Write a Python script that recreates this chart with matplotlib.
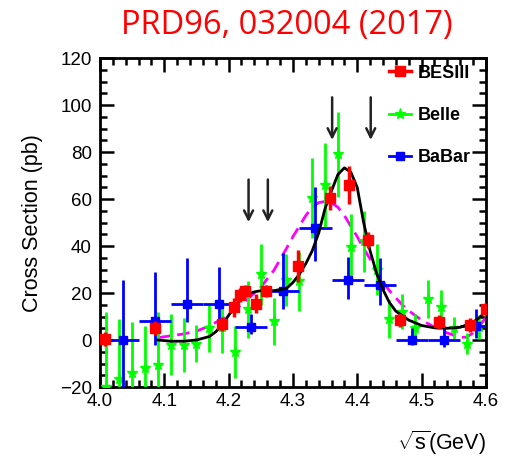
import numpy as np
import matplotlib.pyplot as plt
from matplotlib.lines import Line2D
from matplotlib.ticker import MultipleLocator

plt.rcParams['font.family'] = ['Liberation Sans', 'DejaVu Sans']
plt.rcParams['mathtext.fontset'] = 'custom'
plt.rcParams['mathtext.rm'] = 'Liberation Sans'
plt.rcParams['mathtext.it'] = 'Liberation Sans:italic'

# BESIII points
bes_E = [4.008, 4.085, 4.189, 4.208, 4.217, 4.226, 4.242, 4.258, 4.308,
         4.358, 4.387, 4.416, 4.467, 4.527, 4.575, 4.600]
bes_xs = [0.4, 5.0, 7.0, 14.0, 19.0, 21.0, 15.5, 21.0, 31.5,
          60.5, 66.0, 42.5, 8.5, 7.5, 6.5, 13.0]
bes_err = [3.0, 3.0, 3.0, 4.0, 3.0, 2.5, 4.0, 2.5, 7.0,
           5.0, 8.0, 3.5, 3.0, 3.0, 3.0, 3.0]

# Belle points
belle_E = [4.01, 4.03, 4.05, 4.07, 4.09, 4.11, 4.13, 4.15, 4.17, 4.19,
           4.21, 4.23, 4.25, 4.27, 4.29, 4.31, 4.33, 4.35, 4.37, 4.39,
           4.41, 4.43, 4.45, 4.47, 4.49, 4.51, 4.53, 4.55, 4.57, 4.59]
belle_xs = [-20.0, -16.5, -14.0, -12.0, -10.5, -2.0, -2.0, -1.5, 5.0, 5.5,
            -5.0, 13.0, 28.0, 8.0, 25.5, 25.0, 60.5, 66.0, 79.0, 39.5,
            42.0, 30.0, 9.0, 12.0, 5.0, 17.5, 14.0, 5.0, -1.5, 5.5]
belle_err = [32.0, 25.5, 21.5, 18.0, 22.5, 13.0, 11.5, 8.0, 10.0, 11.0,
             11.0, 12.0, 13.0, 10.0, 11.0, 12.5, 17.0, 18.0, 18.0, 14.0,
             13.0, 11.0, 8.0, 7.5, 6.0, 8.0, 7.5, 5.0, 4.5, 5.0]

# BaBar points (0.05 GeV bins)
babar_E = [4.035, 4.085, 4.135, 4.185, 4.235, 4.285, 4.335, 4.385,
           4.435, 4.485, 4.535, 4.585]
babar_xs = [0.0, 8.0, 15.5, 15.5, 5.5, 21.0, 47.5, 25.5, 23.5, 0.0, 0.0, 6.0]
babar_up = [25.5, 21.0, 19.5, 15.5, 5.5, 16.0, 17.5, 10.0, 11.5, 5.0, 6.0, 7.0]
babar_dn = [25.5, 10.0, 8.0, 10.0, 3.0, 8.0, 14.0, 8.0, 8.5, 2.0, 3.0, 5.0]
babar_xlo = [0.025] * 12
babar_xhi = [0.025] * 11 + [0.015]

# fit curves
fit1_E = [4.09, 4.11, 4.13, 4.15, 4.17, 4.18, 4.19, 4.20, 4.21, 4.22, 4.23,
          4.24, 4.25, 4.26, 4.27, 4.28, 4.29, 4.30, 4.31, 4.32, 4.33, 4.34,
          4.35, 4.36, 4.37, 4.38, 4.39, 4.40, 4.41, 4.42, 4.43, 4.44, 4.45,
          4.46, 4.48, 4.50, 4.52, 4.54, 4.56, 4.58, 4.59, 4.60]
fit1_xs = [0.0, -0.5, -0.5, 0.0, 1.5, 3.5, 6.5, 10.5, 14.5, 17.5, 19.5,
           20.5, 21.0, 21.0, 21.0, 21.5, 22.0, 24.5, 28.0, 32.5, 38.0, 45.5,
           56.0, 63.5, 70.5, 73.3, 71.5, 65.0, 50.0, 38.0, 28.5, 21.5, 16.0,
           12.3, 8.5, 6.2, 5.2, 5.0, 5.4, 7.5, 9.5, 12.3]

fit2_E = [4.09, 4.11, 4.13, 4.15, 4.17, 4.19, 4.21, 4.23, 4.25, 4.27, 4.29,
          4.30, 4.31, 4.32, 4.33, 4.34, 4.35, 4.36, 4.37, 4.38, 4.39, 4.40,
          4.41, 4.42, 4.43, 4.44, 4.45, 4.46, 4.47, 4.48, 4.50, 4.52, 4.54,
          4.56, 4.57, 4.58, 4.59, 4.60]
fit2_xs = [1.0, 1.8, 2.6, 3.8, 6.0, 9.0, 13.0, 17.5, 22.5, 29.5, 39.0,
           44.0, 48.5, 53.0, 56.5, 58.5, 59.0, 58.5, 56.5, 53.0, 48.5, 44.0,
           39.0, 34.5, 29.5, 25.0, 21.0, 18.0, 15.0, 12.5, 8.5, 5.5, 3.0,
           1.2, 1.2, 3.0, 6.0, 9.5]

arrow_E = [4.231, 4.261, 4.361, 4.421]
arrow_top = [69.5, 69.5, 104.5, 104.5]
arrow_tip = [49.0, 49.0, 84.0, 84.0]

fig = plt.figure(figsize=(5.13, 4.58), dpi=100)
ax = fig.add_axes([0.195, 0.155, 0.752, 0.718])

ax.plot(fit2_E, fit2_xs, color='#ff00ff', lw=2.0, dashes=(4.5, 2.5), zorder=2)
ax.errorbar(belle_E, belle_xs, yerr=belle_err, fmt='*', color='#00ff00',
            ms=8, lw=2.0, capsize=0, zorder=3)
ax.errorbar(babar_E, babar_xs, yerr=[babar_dn, babar_up],
            xerr=[babar_xlo, babar_xhi], fmt='s', color='#0000ff',
            ms=5.5, lw=2.0, capsize=0, zorder=4)
ax.plot(fit1_E, fit1_xs, color='black', lw=2.0, zorder=5)
ax.errorbar(bes_E, bes_xs, yerr=bes_err, fmt='s', color='#ff0000',
            ms=7.5, lw=2.5, capsize=0, zorder=6)

for e, y0, y1 in zip(arrow_E, arrow_top, arrow_tip):
    ax.annotate('', xy=(e, y1), xytext=(e, y0),
                arrowprops=dict(arrowstyle='->', color='#222222', lw=1.8,
                                mutation_scale=16))

ax.set_xlim(4.0, 4.6)
ax.set_ylim(-20, 120)
ax.set_xticks([4.0, 4.1, 4.2, 4.3, 4.4, 4.5, 4.6])
ax.set_xticklabels(['4.0', '4.1', '4.2', '4.3', '4.4', '4.5', '4.6'])
ax.xaxis.set_minor_locator(MultipleLocator(0.02))
ax.yaxis.set_major_locator(MultipleLocator(20))
ax.yaxis.set_minor_locator(MultipleLocator(5))
ax.tick_params(which='both', direction='in', top=True, right=True,
               width=1.8, labelsize=13.5)
ax.tick_params(which='major', length=10)
ax.tick_params(which='minor', length=5)
ax.tick_params(axis='y', pad=6)
ax.tick_params(axis='x', pad=4)
for s in ax.spines.values():
    s.set_linewidth(2.0)

ax.set_ylabel('Cross Section (pb)', fontsize=15.5, labelpad=12)
ax.set_xlabel(r'$\sqrt{\mathrm{s}}$(GeV)', fontsize=15.5, loc='right',
              labelpad=14)

handles = [
    Line2D([], [], color='#ff0000', marker='s', ms=7.5, lw=2.5),
    Line2D([], [], color='#00ff00', marker='*', ms=8, lw=2.0),
    Line2D([], [], color='#0000ff', marker='s', ms=5.5, lw=2.0),
]
ax.legend(handles, ['BESIII', 'Belle', 'BaBar'], loc='upper left',
          bbox_to_anchor=(0.708, 1.03), frameon=False, handlelength=1.2,
          handletextpad=0.35, labelspacing=1.4,
          prop={'weight': 'bold', 'size': 13})

fig.text(0.56, 0.945, 'PRD96, 032004 (2017)', color='#ff0000',
         fontsize=23.5, family='Open Sans', ha='center', va='center')

fig.savefig('out.png', dpi=100)
